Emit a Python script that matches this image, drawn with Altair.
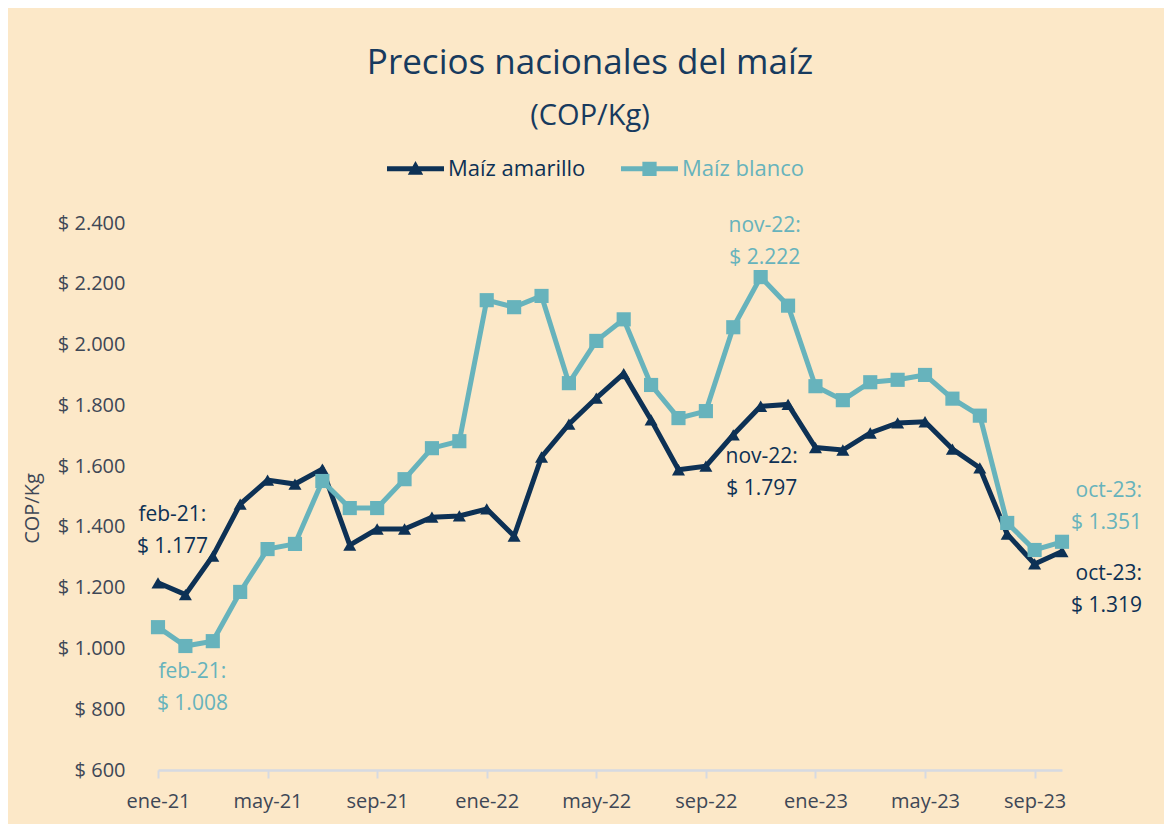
import altair as alt
import pandas as pd

months = ["ene-21", "feb-21", "mar-21", "abr-21", "may-21", "jun-21", "jul-21", "ago-21",
          "sep-21", "oct-21", "nov-21", "dic-21", "ene-22", "feb-22", "mar-22", "abr-22",
          "may-22", "jun-22", "jul-22", "ago-22", "sep-22", "oct-22", "nov-22", "dic-22",
          "ene-23", "feb-23", "mar-23", "abr-23", "may-23", "jun-23", "jul-23", "ago-23",
          "sep-23", "oct-23"]

amarillo = [1216, 1177, 1304, 1475, 1554, 1541, 1590, 1340,
            1393, 1393, 1432, 1436, 1459, 1370, 1630, 1738,
            1824, 1904, 1752, 1588, 1600, 1703, 1797, 1803,
            1661, 1653, 1709, 1742, 1746, 1656, 1594, 1376,
            1278, 1319]

blanco = [1070, 1008, 1024, 1186, 1327, 1344, 1551, 1462,
          1462, 1557, 1659, 1682, 2146, 2123, 2160, 1873,
          2012, 2083, 1867, 1758, 1781, 2057, 2222, 2128,
          1863, 1817, 1876, 1884, 1900, 1822, 1766, 1413,
          1324, 1351]

series_names = ["Maíz amarillo", "Maíz blanco"]
series_colors = ["#0D3155", "#67B3BC"]
x_ticks = ["ene-21", "may-21", "sep-21", "ene-22", "may-22", "sep-22", "ene-23", "may-23", "sep-23"]
y_ticks = [600, 800, 1000, 1200, 1400, 1600, 1800, 2000, 2200, 2400]

# annotations: (month, series)
annotations = [("feb-21", "Maíz amarillo"), ("feb-21", "Maíz blanco"),
               ("nov-22", "Maíz blanco"), ("nov-22", "Maíz amarillo"),
               ("oct-23", "Maíz blanco"), ("oct-23", "Maíz amarillo")]

FONT = "Open Sans"
BG = "#FCE8C8"
AXIS_TEXT = "#3E4756"

rows = []
for i, m in enumerate(months):
    rows.append({"mes": m, "serie": series_names[0], "valor": amarillo[i]})
    rows.append({"mes": m, "serie": series_names[1], "valor": blanco[i]})
df = pd.DataFrame(rows)


def fmt(v):
    return "$ " + f"{v:,}".replace(",", ".")


ann_rows = []
for m, s in annotations:
    v = (amarillo if s == series_names[0] else blanco)[months.index(m)]
    ann_rows.append({"mes": m, "serie": s, "valor": v, "texto": f"{m}:\n{fmt(v)}"})
ann_df = pd.DataFrame(ann_rows)

x_enc = alt.X("mes:O", sort=months,
              scale=alt.Scale(type="point", padding=0),
              axis=alt.Axis(values=x_ticks, labelAngle=0, title=None, grid=False,
                            domainColor="#D6DAE2", domainWidth=2.5,
                            tickColor="#D6DAE2", tickWidth=2, tickSize=8,
                            labelFont=FONT, labelFontSize=20, labelColor=AXIS_TEXT,
                            labelPadding=13))
y_enc = alt.Y("valor:Q",
              scale=alt.Scale(domain=[600, 2400], nice=False, zero=False),
              axis=alt.Axis(values=y_ticks, grid=False, domain=False, ticks=False,
                            labelExpr="'$ ' + replace(format(datum.value, ','), ',', '.')",
                            labelFont=FONT, labelFontSize=20, labelColor=AXIS_TEXT,
                            labelPadding=33,
                            title="COP/Kg", titleFont=FONT, titleFontSize=20,
                            titleFontWeight="normal", titleColor=AXIS_TEXT,
                            titleX=-126, titleY=285, titleAngle=270,
                            titleAlign="center", titleBaseline="middle"))
color_scale = alt.Scale(domain=series_names, range=series_colors)

base = alt.Chart(df)

lines = base.mark_line(strokeWidth=5, strokeJoin="miter").encode(
    x=x_enc, y=y_enc,
    color=alt.Color("serie:N", scale=color_scale, legend=None),
    detail="serie:N")

tri = base.transform_filter(alt.datum.serie == series_names[0]).mark_point(
    shape="triangle-up", filled=True, size=170, opacity=1).encode(
    x=x_enc, y=y_enc, color=alt.Color("serie:N", scale=color_scale, legend=None))

sq = base.transform_filter(alt.datum.serie == series_names[1]).mark_point(
    shape="square", filled=True, size=200, opacity=1).encode(
    x=x_enc, y=y_enc, color=alt.Color("serie:N", scale=color_scale, legend=None))

tri_path = "M-1,-0.09L1,-0.09L1,0.09L-1,0.09Z M-0.27,0.21L0,-0.27L0.27,0.21Z"
sq_path = "M-1,-0.09L1,-0.09L1,0.09L-1,0.09Z M-0.25,-0.25L0.25,-0.25L0.25,0.25L-0.25,0.25Z"

legend_props = dict(
    orient="none", legendX=228, legendY=-84, direction="horizontal", title=None,
    symbolSize=3249, labelFont=FONT, labelFontSize=22, labelOffset=3,
    columnPadding=32, padding=0, symbolOpacity=1,
    labelColor={"expr": "datum.value == 'Maíz blanco' ? '#67B3BC' : '#0D3155'"})

legend_layer = base.mark_point(filled=True, opacity=0).encode(
    x=x_enc, y=y_enc,
    color=alt.Color("serie:N", scale=color_scale, legend=alt.Legend(**legend_props)),
    shape=alt.Shape("serie:N", scale=alt.Scale(domain=series_names, range=[tri_path, sq_path]),
                    legend=alt.Legend(**legend_props)))

ann_style = {
    ("feb-21", "Maíz amarillo"): dict(align="center", dx=-13, dy=-80),
    ("feb-21", "Maíz blanco"): dict(align="center", dx=7, dy=26),
    ("nov-22", "Maíz blanco"): dict(align="center", dx=4, dy=-51),
    ("nov-22", "Maíz amarillo"): dict(align="center", dx=1, dy=51),
    ("oct-23", "Maíz blanco"): dict(align="right", dx=80, dy=-51),
    ("oct-23", "Maíz amarillo"): dict(align="right", dx=80, dy=22),
}

ann_layers = []
for (m, s) in annotations:
    st = ann_style[(m, s)]
    col = series_colors[series_names.index(s)]
    ann_layers.append(
        alt.Chart(ann_df).transform_filter(
            (alt.datum.mes == m) & (alt.datum.serie == s)
        ).mark_text(font=FONT, fontSize=21, lineHeight=32, lineBreak="\n",
                    baseline="middle", color=col, fontWeight="normal", **st).encode(
            x=x_enc, y=y_enc, text="texto:N")
    )

chart = alt.layer(lines, tri, sq, legend_layer, *ann_layers).resolve_legend(
    color="independent", shape="independent"
).properties(
    width=904, height=547,
    autosize=alt.AutoSizeParams(type="none"),
    padding={"left": 150, "top": 215, "right": 102, "bottom": 54},
    background=BG,
    title=alt.TitleParams(text="Precios nacionales del maíz", subtitle="(COP/Kg)",
                          font=FONT, fontSize=35, fontWeight="normal", color="#173A5E",
                          subtitleFont=FONT, subtitleFontSize=29, subtitleColor="#173A5E",
                          subtitlePadding=21, anchor="middle", dx=-20, offset=8),
).configure_view(stroke=None)

chart.save("out.html", embed_options={"renderer": "svg", "actions": False})
